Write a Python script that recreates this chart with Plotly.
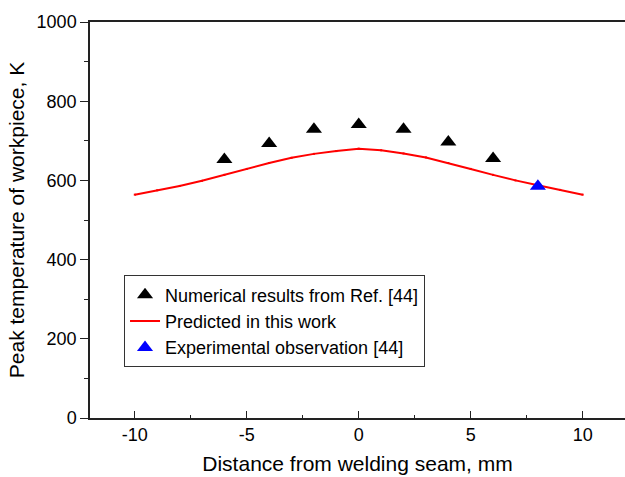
import plotly.graph_objects as go

# Data
num_x = [-6, -4, -2, 0, 2, 4, 6]
num_y = [653, 693, 729, 741, 729, 697, 655]

pred_x = [-10, -9, -8, -7, -6, -5, -4, -3, -2, -1, 0, 1, 2, 3, 4, 5, 6, 7, 8, 9, 10]
pred_y = [564, 575, 586, 599, 614, 629, 644, 657, 667, 674, 680, 676, 668, 658, 644, 629, 614, 600, 588, 576, 564]

exp_x = [8]
exp_y = [585]

FONT = "Liberation Sans, Arial, sans-serif"

fig = go.Figure()
fig.add_trace(go.Scatter(
    x=num_x, y=num_y, mode="markers", name="Numerical results from Ref. [44]",
    marker=dict(symbol="triangle-up", size=14, color="black"),
))
fig.add_trace(go.Scatter(
    x=pred_x, y=pred_y, mode="lines+markers", name="Predicted in this work",
    line=dict(color="red", width=2), marker=dict(size=2, color="red", symbol="square"),
))
fig.add_trace(go.Scatter(
    x=exp_x, y=exp_y, mode="markers", name="Experimental observation [44]",
    marker=dict(symbol="triangle-up", size=14, color="blue"),
))

fig.update_layout(
    width=625, height=477,
    margin=dict(l=90, r=0, t=22, b=59),
    plot_bgcolor="white", paper_bgcolor="white",
    font=dict(family=FONT, size=18, color="black"),
    showlegend=True,
    legend=dict(
        x=0.0636, y=0.36, xanchor="left", yanchor="top",
        bgcolor="white", bordercolor="#333333", borderwidth=1,
        font=dict(family=FONT, size=18, color="black"),
        tracegroupgap=0, itemwidth=30,
    ),
    xaxis=dict(
        range=[-12, 11.89], tickmode="array", tickvals=[-10, -5, 0, 5, 10],
        ticktext=["-10", "-5", "0", "5", "10"],
        ticks="inside", ticklen=7, tickwidth=1, tickcolor="#222222",
        minor=dict(tickvals=[-7.5, -2.5, 2.5, 7.5], ticks="inside", ticklen=3, tickcolor="#222222"),
        showline=True, linecolor="#222222", linewidth=1.5, mirror=True,
        showgrid=False, zeroline=False,
        title=dict(text="Distance from welding seam, mm", font=dict(size=21), standoff=12),
    ),
    yaxis=dict(
        range=[0, 1000], tickmode="array", tickvals=[0, 200, 400, 600, 800, 1000],
        ticks="outside", ticklen=8, tickwidth=1, tickcolor="#222222",
        minor=dict(tickvals=[100, 300, 500, 700, 900], ticks="outside", ticklen=4, tickcolor="#222222"),
        showline=True, linecolor="#222222", linewidth=1.5, mirror=False,
        showgrid=False, zeroline=False,
        title=dict(text="Peak temperature of workpiece, K", font=dict(size=21), standoff=6),
    ),
)

fig.write_html("out.html")
